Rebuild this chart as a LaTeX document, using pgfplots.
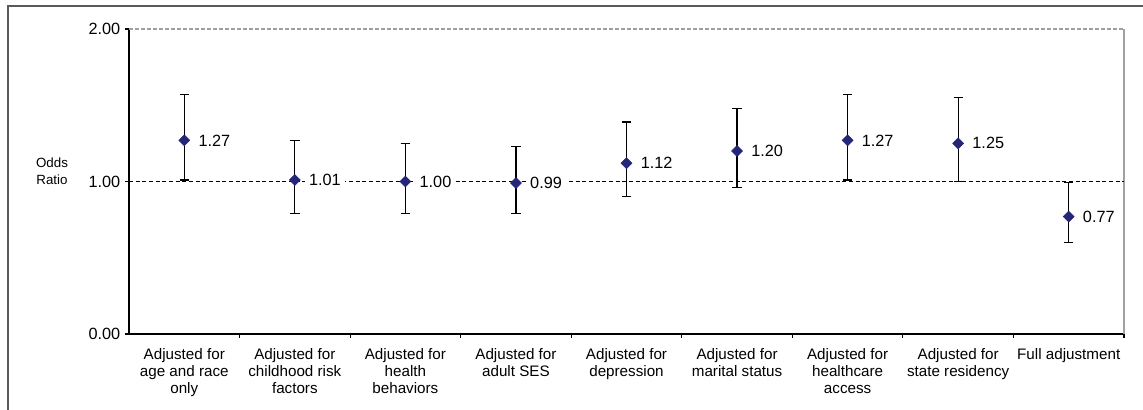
\documentclass[border=0pt]{standalone}
\usepackage{pgfplots}
\pgfplotsset{compat=1.18}
\usepackage{fontspec}
\setmainfont{Liberation Sans}
\definecolor{navy}{RGB}{36,38,120}
\definecolor{framegray}{RGB}{90,90,90}
\definecolor{boxgray}{RGB}{160,160,160}
\begin{document}
\begin{tikzpicture}
\useasboundingbox (0,0) rectangle (857.25pt,307.5pt);
\draw[framegray, line width=1.1pt] (6pt,0) -- (6pt,303pt) -- (857.25pt,303pt);
\node[align=center, font=\fontsize{10pt}{12.5pt}\selectfont] at (39pt,179pt) {Odds\\Ratio};
\begin{axis}[
  at={(96.75pt,57pt)}, anchor=south west,
  scale only axis,
  width=746.25pt, height=228.75pt,
  xmin=-0.5, xmax=8.5, ymin=0, ymax=2,
  axis x line*=bottom, axis y line*=left,
  axis line style={black, line width=0.9pt, -},
  xtick={0,...,8},
  major x tick style={draw=none},
  minor xtick={0.5,1.5,...,8.5},
  minor tick length=3pt,
  minor x tick style={black, line width=0.8pt},
  tick align=outside,
  ytick={0,1,2},
  yticklabels={0.00,1.00,2.00},
  major tick length=3pt,
  ytick style={black, line width=0.8pt},
  xticklabels={{Adjusted for\\age and race\\only},{Adjusted for\\childhood risk\\factors},{Adjusted for\\health\\behaviors},{Adjusted for\\adult SES},{Adjusted for\\depression},{Adjusted for\\marital status},{Adjusted for\\healthcare\\access},{Adjusted for\\state residency},{Full adjustment}},
  xticklabel style={align=center, font=\fontsize{11.4pt}{12.5pt}\selectfont, yshift=-4.5pt, anchor=north},
  yticklabel style={font=\fontsize{12.2pt}{13pt}\selectfont},
  clip=false,
]
\draw[boxgray, dashed, dash pattern=on 3pt off 1.5pt, line width=0.8pt] (rel axis cs:0,1) -- (rel axis cs:1,1);
\draw[boxgray, line width=0.9pt] (rel axis cs:1,1) -- (rel axis cs:1,0);
\addplot[black, line width=0.8pt, dash pattern=on 3pt off 2pt, forget plot] coordinates {(-0.5,1) (8.5,1)};
\addplot[
  only marks,
  mark=square*, mark size=2.9pt,
  mark options={rotate=45, fill=navy, draw=navy},
  error bars/.cd, y dir=both, y explicit,
  error bar style={black, line width=0.9pt},
  error mark options={rotate=90, mark size=3.5pt, line width=0.9pt, black},
] table[x=x, y=y, y error plus=ep, y error minus=em] {
x y ep em
0 1.27 0.30 0.26
1 1.01 0.26 0.22
2 1.00 0.25 0.21
3 0.99 0.24 0.20
4 1.12 0.27 0.22
5 1.20 0.28 0.24
6 1.27 0.30 0.26
7 1.25 0.30 0.25
8 0.77 0.225 0.17
};
\addplot[
  only marks, mark=none,
  nodes near coords, point meta=explicit symbolic,
  nodes near coords style={anchor=west, xshift=7.5pt, text=black, fill=white, inner sep=3pt, font=\fontsize{12.2pt}{13pt}\selectfont},
] table[x=x, y=y, meta=lab] {
x y lab
0 1.27 1.27
1 1.01 1.01
2 1.00 1.00
3 0.99 0.99
4 1.12 1.12
5 1.20 1.20
6 1.27 1.27
7 1.25 1.25
8 0.77 0.77
};
\end{axis}
\end{tikzpicture}
\end{document}
